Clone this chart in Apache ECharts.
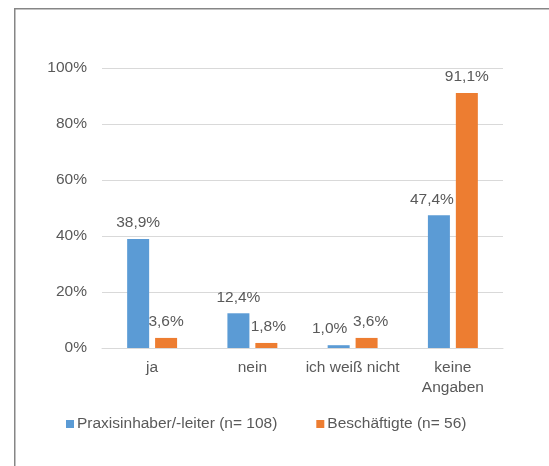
<!DOCTYPE html>
<html>
<head>
<meta charset="utf-8">
<script src="https://cdn.jsdelivr.net/npm/echarts@6/dist/echarts.min.js"></script>
<style>
  html, body { margin: 0; padding: 0; background: #fff; }
  #chart { width: 549px; height: 466px; }
</style>
</head>
<body>
<div id="chart"></div>
<script>
// ===== Data =====
const categories = ['ja', 'nein', 'ich weiß nicht', 'keine\nAngaben']
const seriesNames = ['Praxisinhaber/-leiter (n= 108)', 'Beschäftigte (n= 56)']
const inhaberValues = [38.9, 12.4, 1.0, 47.4]
const beschaeftigteValues = [3.6, 1.8, 3.6, 91.1]
const yTicks = [0, 20, 40, 60, 80, 100]

// Excel shifted a few labels sideways to avoid overlap
const inhaberLabelShift = [0, 0, -9, -7]
const beschLabelShift = [0, 2, 4, 0]

const FONT = "'Liberation Sans', Arial, sans-serif"
const TEXT = '#595959'
const GRID = '#d9d9d9'

const fmt = v => v.toFixed(1).replace('.', ',') + '%'

const barData = (vals, shift) => vals.map((v, i) => ({
    value: v,
    label: { offset: [shift[i], 0] }
}))

const barSeries = (name, vals, shift, color) => ({
    name,
    type: 'bar',
    barWidth: 22,
    barGap: '27%',
    itemStyle: { color },
    label: {
        show: true,
        position: 'top',
        distance: 8,
        color: TEXT,
        fontFamily: FONT,
        fontSize: 15.5,
        formatter: ({ value }) => fmt(value)
    },
    data: barData(vals, shift)
})

const chart = echarts.init(document.getElementById('chart'))
chart.setOption({
    animation: false,
    textStyle: { fontFamily: FONT },
    grid: { left: 102, right: 46, top: 68, bottom: 118 },
    legend: {
        left: 61,
        top: 411,
        itemWidth: 8,
        itemHeight: 8,
        itemGap: 39,
        icon: 'rect',
        textStyle: { color: TEXT, fontSize: 15.5, fontFamily: FONT, padding: [0, 0, 0, -2] },
        data: seriesNames
    },
    xAxis: {
        type: 'category',
        data: categories,
        axisLine: { lineStyle: { color: GRID } },
        axisTick: { show: false },
        axisLabel: { color: TEXT, fontSize: 15.5, fontFamily: FONT, margin: 10, lineHeight: 20, interval: 0 }
    },
    yAxis: {
        type: 'value',
        min: yTicks[0],
        max: yTicks[yTicks.length - 1],
        interval: yTicks[1] - yTicks[0],
        axisLine: { show: false },
        axisTick: { show: false },
        splitLine: { lineStyle: { color: GRID, width: 1 } },
        axisLabel: { color: TEXT, fontSize: 15.5, fontFamily: FONT, margin: 15, formatter: v => v + '%' }
    },
    series: [
        barSeries(seriesNames[0], inhaberValues, inhaberLabelShift, '#5b9bd5'),
        barSeries(seriesNames[1], beschaeftigteValues, beschLabelShift, '#ed7d31')
    ],
    graphic: [{
        type: 'polyline',
        shape: { points: [[14.75, 470], [14.75, 8.75], [560, 8.75]] },
        style: { stroke: '#868686', lineWidth: 1.5, fill: null },
        silent: true
    }]
})
</script>
</body>
</html>
